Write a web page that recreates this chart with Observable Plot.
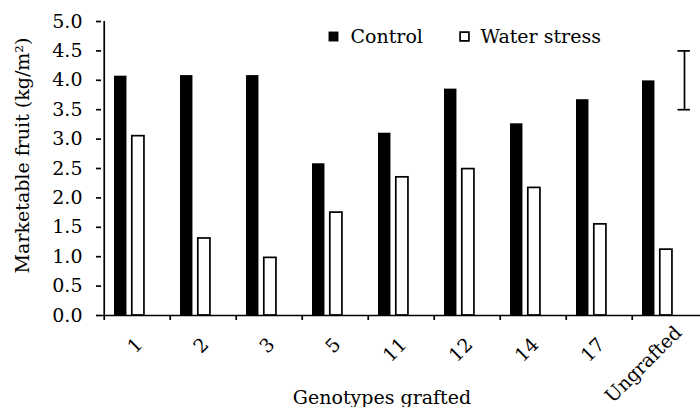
<!DOCTYPE html>
<html><head><meta charset="utf-8">
<script src="https://cdn.jsdelivr.net/npm/d3@7"></script>
<script src="https://cdn.jsdelivr.net/npm/@observablehq/plot@0.6"></script>
<style>
body{margin:0;background:#fff;color:#000}
#chart svg{font-family:"DejaVu Serif",serif;}
</style>
</head><body><div id="chart"></div>
<script>
// ---- data ----
const genotypes = ["1", "2", "3", "5", "11", "12", "14", "17", "Ungrafted"];
const series = ["Control", "Water stress"];
const control = [4.07, 4.08, 4.08, 2.58, 3.10, 3.85, 3.26, 3.67, 3.99];
const waterStress = [3.05, 1.31, 0.98, 1.75, 2.35, 2.49, 2.17, 1.55, 1.12];
const yTicks = [0, 0.5, 1.0, 1.5, 2.0, 2.5, 3.0, 3.5, 4.0, 4.5, 5.0];
const errorBarGenotype = ["Ungrafted"];
const errorBarLow = [3.5];
const errorBarHigh = [4.5];
const xTitle = "Genotypes grafted";
const yTitle = "Marketable fruit (kg/m²)";

// ---- layout ----
const W = 700, H = 407, ML = 101, MR = 0, MT = 21, MB = 92;
const bw = (W - ML - MR) / genotypes.length;
const FS = 19;
const SW = 1.7;

const controlData = genotypes.map((g, i) => ({genotype: g, value: control[i]}));
const waterData = genotypes.map((g, i) => ({genotype: g, value: waterStress[i]}));
const errData = errorBarGenotype.map((g, i) => ({genotype: g, low: errorBarLow[i], high: errorBarHigh[i]}));
const capData = errData.flatMap(d => [{genotype: d.genotype, v: d.low}, {genotype: d.genotype, v: d.high}]);
const lastGenotype = genotypes[genotypes.length - 1];

const chart = Plot.plot({
  width: W, height: H,
  marginLeft: ML, marginRight: MR, marginTop: MT, marginBottom: MB,
  style: {fontFamily: "DejaVu Serif", fontSize: FS + "px", background: "white", color: "black"},
  x: {type: "band", domain: genotypes, padding: 0},
  y: {domain: [0, 5]},
  marks: [
    Plot.barY(controlData, {x: "genotype", y: "value", fill: "black", insetLeft: 10, insetRight: bw - 23}),
    Plot.barY(waterData, {x: "genotype", y: "value", fill: "white", stroke: "black", strokeWidth: SW, insetLeft: 27.8, insetRight: bw - 40.5}),
    Plot.ruleY([0], {strokeWidth: SW}),
    Plot.ruleX([genotypes[0]], {y1: 0, y2: 5, dx: -bw / 2, strokeWidth: SW}),
    Plot.axisY({ticks: yTicks, tickFormat: d3.format(".1f"), tickSize: 5, tickPadding: 14, strokeWidth: SW, label: null, fontSize: FS}),
    Plot.axisX({tickSize: 5, tickFormat: () => "", dx: -bw / 2, strokeWidth: SW, label: null}),
    Plot.axisX({ticks: genotypes.slice(0, -1), tickSize: 0, tickRotate: -45, tickPadding: 26, dx: 2, label: null, fontSize: FS, textAnchor: "end", lineAnchor: "middle"}),
    Plot.axisX({ticks: [lastGenotype], tickSize: 0, tickRotate: -45, tickPadding: 14, dx: 13, label: null, fontSize: FS, textAnchor: "end", lineAnchor: "middle"}),
    // error bar
    Plot.ruleX(errData, {x: "genotype", y1: "low", y2: "high", dx: 19, strokeWidth: SW}),
    Plot.tickY(capData, {x: "genotype", y: "v", insetLeft: 45.5, insetRight: bw - 58.5, strokeWidth: SW}),
    // legend
    Plot.dot([series[0]], {frameAnchor: "top-left", dx: 232, dy: 15, symbol: "square", r: 5.6, fill: "black", stroke: null}),
    Plot.text([series[0]], {frameAnchor: "top-left", dx: 249, dy: 15, text: d => d, textAnchor: "start", lineAnchor: "middle", fontSize: FS}),
    Plot.dot([series[1]], {frameAnchor: "top-left", dx: 363, dy: 15, symbol: "square", r: 5.0, fill: "white", stroke: "black", strokeWidth: SW}),
    Plot.text([series[1]], {frameAnchor: "top-left", dx: 379, dy: 15, text: d => d, textAnchor: "start", lineAnchor: "middle", fontSize: FS}),
    // titles
    Plot.text([xTitle], {frameAnchor: "bottom", dx: -19, dy: 88, text: d => d, lineAnchor: "bottom", fontSize: FS}),
    Plot.text([yTitle], {frameAnchor: "left", dx: -79, dy: -13, rotate: -90, text: d => d, textAnchor: "middle", lineAnchor: "middle", fontSize: FS})
  ]
});
document.getElementById("chart").appendChild(chart);
</script>
</body></html>
